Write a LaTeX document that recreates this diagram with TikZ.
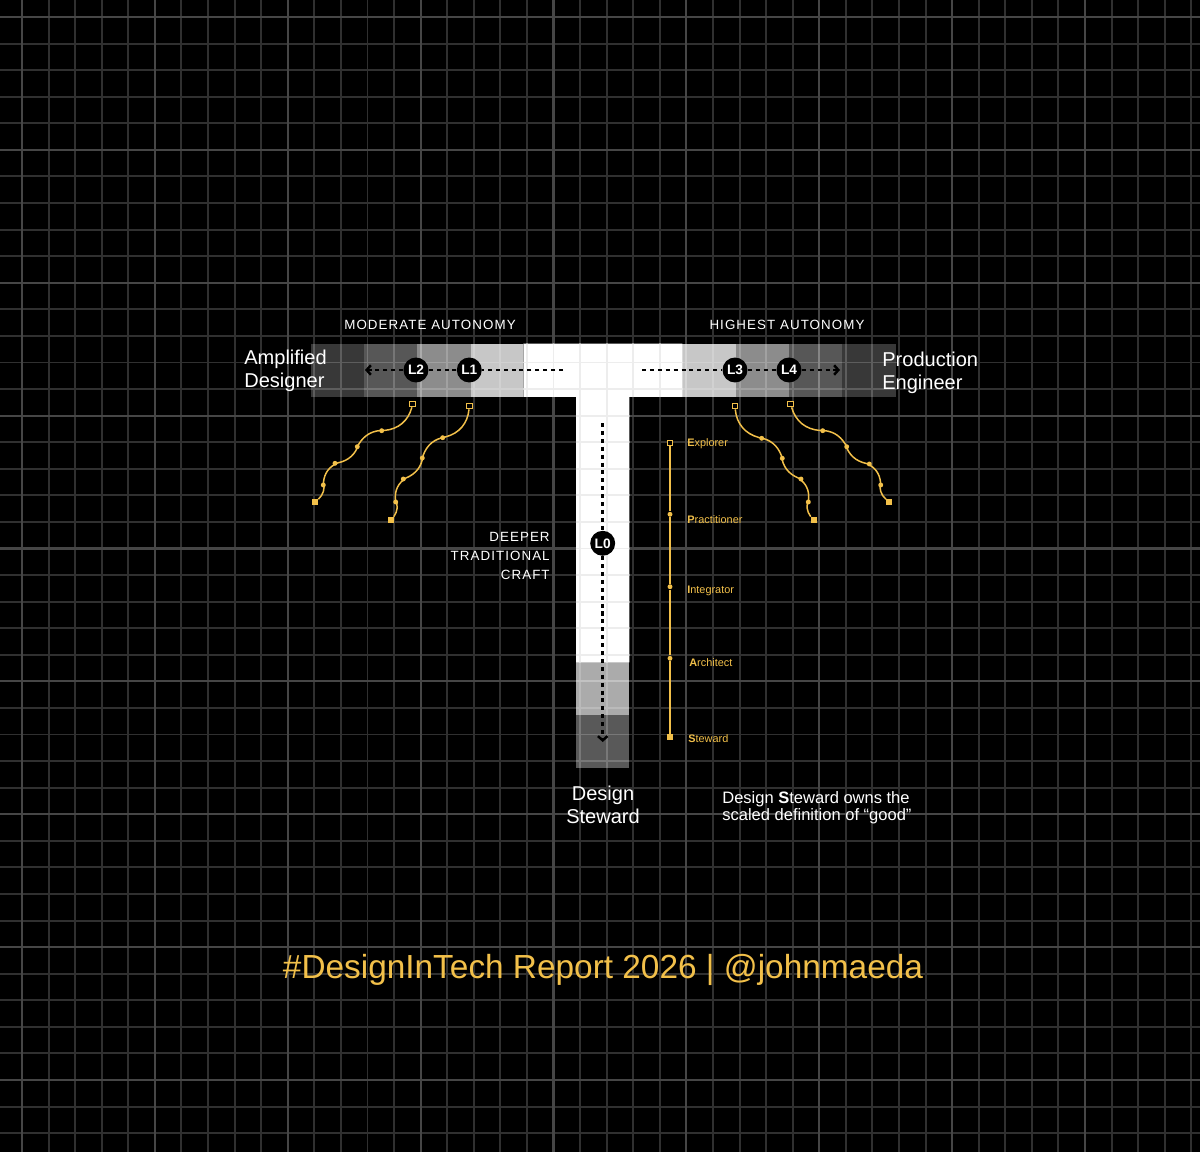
\documentclass[tikz,border=0pt]{standalone}
\usepackage{fontspec}
\setmainfont{Liberation Sans}
\newfontfamily\spacedfont[LetterSpace=8]{Liberation Sans}
\usetikzlibrary{arrows.meta, positioning}

\definecolor{gridgrey}{RGB}{48,48,48}
\definecolor{gridmajor}{RGB}{70,70,70}
\definecolor{gold}{RGB}{242,192,74}

\begin{document}
\begin{tikzpicture}[x = 0.02cm, y = -0.02cm,
	minorline/.style = {draw = gridgrey, line width = 1.1pt},
	majorline/.style = {draw = gridmajor, line width = 1.2pt},
	faintline/.style = {draw = black!7, line width = 1.1pt},
	level/.style = {circle, fill = black, minimum size = 14.2pt, inner sep = 0pt, text = white, font = \bfseries\fontsize{7.8}{8}\selectfont},
	dotline/.style = {line width = 1.4pt, dash pattern = on 2.3pt off 2.2pt, -{Straight Barb[length = 2.4pt, width = 5.4pt]}},
	spaced/.style = {text = white, inner sep = 0pt, font = \spacedfont\fontsize{7.6}{10.8}\selectfont},
	role/.style = {text = white, inner sep = 0pt, font = \fontsize{11.4}{12.8}\selectfont},
	vine/.style = {draw = gold, line width = 0.85pt},
	seed/.style = {draw = gold, fill = black, line width = 0.6pt, minimum size = 3.2pt, inner sep = 0pt},
	knot/.style = {circle, fill = gold, minimum size = 2.8pt, inner sep = 0pt},
	bud/.style = {fill = gold, minimum size = 3.4pt, inner sep = 0pt},
	runglabel/.style = {text = gold, anchor = west, inner sep = 0pt, font = \fontsize{6.2}{7}\selectfont}
]
	\useasboundingbox (0, 0) rectangle (1200, 1152);
	\fill[black] (0, 0) rectangle (1200, 1152);

	% grid
	\foreach \k in {0, ..., 44} \draw[minorline] ({22 + 26.575*\k}, 0) -- ({22 + 26.575*\k}, 1152);
	\foreach \k in {0, ..., 42} \draw[minorline] (0, {17 + 26.575*\k}) -- (1200, {17 + 26.575*\k});
	\foreach \k in {0, 5, ..., 40} {
		\draw[majorline] ({22 + 26.575*\k}, 0) -- ({22 + 26.575*\k}, 1152);
		\draw[majorline] (0, {17 + 26.575*\k}) -- (1200, {17 + 26.575*\k});
	}

	% the T
	\fill[white, fill opacity = 0.22] (310.7, 343.5) rectangle (364, 396.8);
	\fill[white, fill opacity = 0.34] (364, 343.5) rectangle (417.3, 396.8);
	\fill[white, fill opacity = 0.55] (417.3, 343.5) rectangle (470.7, 396.8);
	\fill[white, fill opacity = 0.78] (470.7, 343.5) rectangle (523.3, 396.8);
	\fill[white, fill opacity = 0.78] (682.3, 343.5) rectangle (735.7, 396.8);
	\fill[white, fill opacity = 0.55] (735.7, 343.5) rectangle (789, 396.8);
	\fill[white, fill opacity = 0.34] (789, 343.5) rectangle (842.3, 396.8);
	\fill[white, fill opacity = 0.22] (842.3, 343.5) rectangle (895.7, 396.8);
	\fill[white, fill opacity = 0.67] (576, 662.3) rectangle (629.3, 715.3);
	\fill[white, fill opacity = 0.35] (576, 715.3) rectangle (629.3, 768.3);
	\begin{scope}
		\clip (523.3, 343.5) -- (682.3, 343.5) -- (682.3, 396.8) -- (629.3, 396.8) -- (629.3, 662.3) -- (576, 662.3) -- (576, 396.8) -- (523.3, 396.8) -- cycle;
		\fill[white] (0, 0) rectangle (1200, 1152);
		\foreach \k in {18, ..., 26} \draw[faintline] ({22 + 26.575*\k}, 300) -- ({22 + 26.575*\k}, 700);
		\foreach \k in {12, ..., 25} \draw[faintline] (500, {17 + 26.575*\k}) -- (700, {17 + 26.575*\k});
	\end{scope}

	% levels
	\node[level] (L2) at (416, 370) {L2};
	\node[level] (L1) at (469.3, 370) {L1};
	\node[level] (L3) at (735, 370) {L3};
	\node[level] (L4) at (789, 370) {L4};
	\node[level] (L0) at (602.7, 543.3) {L0};
	\coordinate (leftstart) at (563, 370);
	\coordinate (lefttip) at (365, 370);
	\coordinate (rightstart) at (642, 370);
	\coordinate (righttip) at (840, 370);
	\coordinate (stemstart) at (602.7, 423);
	\coordinate (stemtip) at (602.7, 742);
	\draw[dotline] (leftstart) -- (L1) -- (L2) -- (lefttip);
	\draw[dotline] (rightstart) -- (L3) -- (L4) -- (righttip);
	\draw[dotline] (stemstart) -- (L0) -- (stemtip);

	% labels
	\node[spaced] (moderate) at (430, 325) {MODERATE AUTONOMY};
	\node[spaced] (highest) at (787, 325) {HIGHEST AUTONOMY};
	\node[spaced, align = right, anchor = east] (deeper) at (550, 556) {DEEPER\\TRADITIONAL\\CRAFT};
	\node[role, align = left, anchor = west] (amplified) at (244, 371) {Amplified\\Designer};
	\node[role, align = left, anchor = west] (production) at (882, 373) {Production\\Engineer};
	\node[role, align = center] (designsteward) at (603, 805) {Design\\Steward};
	\node[text = white, align = left, anchor = west, inner sep = 0pt, font = \fontsize{9.4}{9.6}\selectfont] (owns) at (722, 808) {Design \textbf{S}teward owns the\\scaled definition of “good”};

	% vines
	\node[seed] (a0) at (412.7, 404) {};
	\node[knot] (a1) at (381.7, 430.7) {};
	\node[knot] (a2) at (357.3, 446.7) {};
	\node[knot] (a3) at (335, 463.3) {};
	\node[knot] (a4) at (323.3, 485) {};
	\node[bud] (a5) at (315, 501.7) {};
	\node[seed] (b0) at (469.3, 406) {};
	\node[knot] (b1) at (442.7, 437.7) {};
	\node[knot] (b2) at (422.3, 458) {};
	\node[knot] (b3) at (403.3, 479) {};
	\node[knot] (b4) at (395.7, 502) {};
	\node[bud] (b5) at (390.7, 520) {};
	\node[seed] (c0) at (735, 406) {};
	\node[knot] (c1) at (761.7, 438.3) {};
	\node[knot] (c2) at (782.3, 458.3) {};
	\node[knot] (c3) at (801, 479) {};
	\node[knot] (c4) at (808.3, 502) {};
	\node[bud] (c5) at (814, 520) {};
	\node[seed] (d0) at (790.7, 404) {};
	\node[knot] (d1) at (822.7, 430.7) {};
	\node[knot] (d2) at (846.7, 446.7) {};
	\node[knot] (d3) at (869.3, 464) {};
	\node[knot] (d4) at (880.7, 485) {};
	\node[bud] (d5) at (889.3, 501.7) {};
	\draw[vine] (a0) to[bend left = 35] (a1) to[bend right = 30] (a2) to[bend left = 30] (a3) to[bend right = 30] (a4) to[bend left = 30] (a5);
	\draw[vine] (b0) to[bend left = 35] (b1) to[bend right = 30] (b2) to[bend left = 30] (b3) to[bend right = 30] (b4) to[bend left = 30] (b5);
	\draw[vine] (c0) to[bend right = 35] (c1) to[bend left = 30] (c2) to[bend right = 30] (c3) to[bend left = 30] (c4) to[bend right = 30] (c5);
	\draw[vine] (d0) to[bend right = 35] (d1) to[bend left = 30] (d2) to[bend right = 30] (d3) to[bend left = 30] (d4) to[bend right = 30] (d5);

	% rungs
	\node[seed] (explorer) at (670, 443) {};
	\node[knot] (practitioner) at (670, 514.3) {};
	\node[knot] (integrator) at (670, 586.7) {};
	\node[knot] (architect) at (670, 658.3) {};
	\node[bud] (steward) at (670, 737.3) {};
	\draw[draw = gold, line width = 1pt] (explorer) -- (practitioner) -- (integrator) -- (architect) -- (steward);
	\node[runglabel] (explorertext) at (687, 443.5) {\textbf{E}xplorer};
	\node[runglabel] (practitionertext) at (687, 519.5) {\textbf{P}ractitioner};
	\node[runglabel] (integratortext) at (687, 591) {\textbf{I}ntegrator};
	\node[runglabel] (architecttext) at (689, 662.5) {\textbf{A}rchitect};
	\node[runglabel] (stewardtext) at (688, 738.5) {\textbf{S}teward};

	\node[text = gold, font = \fontsize{19}{20}\selectfont] (title) at (603, 970) {\#DesignInTech Report 2026 | @johnmaeda};
\end{tikzpicture}
\end{document}
